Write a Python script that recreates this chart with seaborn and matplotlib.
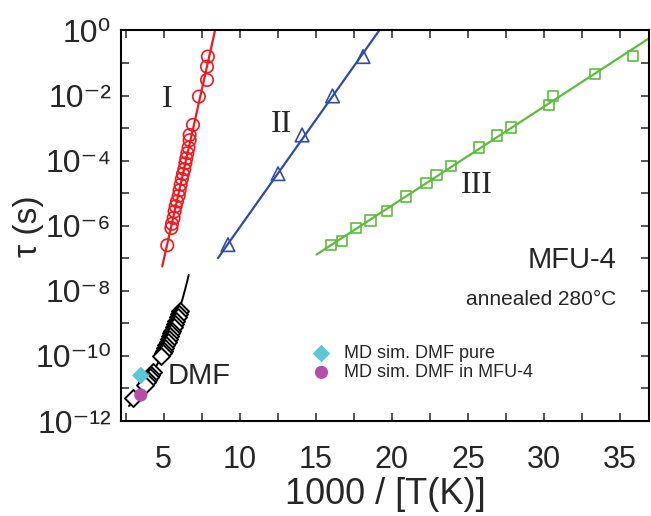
import numpy as np
import pandas as pd
import matplotlib.pyplot as plt
import seaborn as sns
from matplotlib.ticker import FixedLocator, FuncFormatter, NullFormatter

# process I (red circles): x = 1000/T, y = log10(tau / s)
x_I = [7.91, 7.85, 7.85, 7.32, 6.93, 6.71, 6.71, 6.64, 6.56, 6.49, 6.43, 6.36,
       6.27, 6.20, 6.12, 6.05, 5.99, 5.88, 5.79, 5.72, 5.66, 5.55, 5.51, 5.24]
logtau_I = [-0.80, -1.11, -1.52, -2.03, -2.90, -3.21, -3.37, -3.60, -3.77, -3.93, -4.08, -4.26,
            -4.41, -4.56, -4.74, -4.91, -5.08, -5.25, -5.40, -5.56, -5.76, -5.94, -6.07, -6.60]

# process II (blue triangles)
x_II = [18.11, 16.10, 14.10, 12.52, 9.23]
logtau_II = [-0.80, -2.01, -3.21, -4.40, -6.58]

# process III (green squares)
x_III = [35.84, 33.36, 30.61, 30.35, 27.81, 26.89, 25.72, 23.88, 22.94, 22.28,
         20.92, 19.69, 18.60, 17.63, 16.73, 15.99]
logtau_III = [-0.78, -1.34, -2.01, -2.29, -2.98, -3.23, -3.60, -4.16, -4.43, -4.69,
              -5.10, -5.55, -5.84, -6.07, -6.46, -6.60]

# DMF (black open diamonds)
x_DMF = [6.08, 6.00, 5.92, 5.82, 5.75, 5.66, 5.58, 5.50, 5.42, 5.34, 5.26, 5.18,
         5.10, 5.02, 4.94, 4.85, 4.30, 4.20, 4.10, 4.00, 3.90, 3.80, 3.00]
logtau_DMF = [-8.62, -8.70, -8.80, -8.92, -9.02, -9.12, -9.22, -9.31, -9.40, -9.49, -9.58, -9.67,
              -9.75, -9.84, -9.92, -10.01, -10.50, -10.58, -10.66, -10.74, -10.81, -10.88, -11.28]

# MD simulations
x_md_pure, logtau_md_pure = [3.50], [-10.60]
x_md_mfu, logtau_md_mfu = [3.50], [-11.20]

# Arrhenius fits: log10(tau) = a + b*x, drawn between x_start and x_end
fit_I = (-17.51, 2.09, 4.91, 8.45)
fit_II = (-12.65, 0.66, 8.57, 19.3)
fit_III = (-11.46, 0.304, 15.05, 37.0)
# VFT fit for DMF: log10(tau) = a + b / (1000/x - T0)
fit_DMF = (-12.623, 298.5, 92.0, 2.72, 6.65)

x_ticks = [5, 10, 15, 20, 25, 30, 35]
y_exponents = [0, -2, -4, -6, -8, -10, -12]

red = "#f01a1e"
blue = "#2f4ea3"
green = "#5cbd3c"
cyan = "#5cc7d6"
magenta = "#b44ea9"

sns.set_style("ticks")
plt.rcParams["font.family"] = ["Liberation Sans", "DejaVu Sans"]
plt.rcParams["axes.unicode_minus"] = False

fig = plt.figure(figsize=(6.51, 5.16), dpi=100)
ax = fig.add_axes([0.1859, 0.1841, 0.8110, 0.7568])


def arrhenius(fit):
    a, b, x0, x1 = fit
    xs = np.linspace(x0, x1, 50)
    return pd.DataFrame({"x": xs, "tau": 10 ** (a + b * xs)})


def vft(fit):
    a, b, t0, x0, x1 = fit
    xs = np.linspace(x0, x1, 100)
    return pd.DataFrame({"x": xs, "tau": 10 ** (a + b / (1000 / xs - t0))})


for fit, c in [(fit_I, red), (fit_II, blue), (fit_III, green)]:
    sns.lineplot(data=arrhenius(fit), x="x", y="tau", color=c, lw=1.6, ax=ax)
sns.lineplot(data=vft(fit_DMF), x="x", y="tau", color="black", lw=1.4, ax=ax)


def points(xv, lv):
    return pd.DataFrame({"x": xv, "tau": 10 ** np.array(lv)})


sns.scatterplot(data=points(x_I, logtau_I), x="x", y="tau", marker="o", s=80,
                color=red, facecolors="none", edgecolors=red, linewidth=1.2, ax=ax, zorder=3)
sns.scatterplot(data=points(x_II, logtau_II), x="x", y="tau", marker="^", s=95,
                color=blue, facecolors="none", edgecolors=blue, linewidth=1.2, ax=ax, zorder=3)
sns.scatterplot(data=points(x_III, logtau_III), x="x", y="tau", marker="s", s=55,
                color=green, facecolors="none", edgecolors=green, linewidth=1.2, ax=ax, zorder=3)
sns.scatterplot(data=points(x_DMF, logtau_DMF), x="x", y="tau", marker="D", s=75,
                color="black", facecolors="white", edgecolors="black", linewidth=1.4, ax=ax, zorder=3)
sns.scatterplot(data=points(x_md_pure, logtau_md_pure), x="x", y="tau", marker="D", s=80,
                color=cyan, edgecolor="none", ax=ax, zorder=4, label="MD sim. DMF pure")
sns.scatterplot(data=points(x_md_mfu, logtau_md_mfu), x="x", y="tau", marker="o", s=90,
                color=magenta, edgecolor="none", ax=ax, zorder=4, label="MD sim. DMF in MFU-4")

ax.set_yscale("log")
ax.set_xlim(2.2, 36.9)
ax.set_ylim(1e-12, 1)

sup = str.maketrans("-0123456789", "⁻⁰¹²³⁴⁵⁶⁷⁸⁹")
ax.xaxis.set_major_locator(FixedLocator(x_ticks))
ax.xaxis.set_minor_locator(FixedLocator([t + 2.5 for t in [0] + x_ticks[:-1]]))
ax.yaxis.set_major_locator(FixedLocator([10.0 ** e for e in y_exponents]))
ax.yaxis.set_minor_locator(FixedLocator([10.0 ** (e - 1) for e in y_exponents[:-1]]))
ax.yaxis.set_major_formatter(FuncFormatter(
    lambda v, p: "10" + str(round(np.log10(v))).translate(sup)))
ax.yaxis.set_minor_formatter(NullFormatter())

ax.tick_params(which="both", direction="in", length=6, width=1.1,
               top=True, right=True)
ax.tick_params(axis="y", labelsize=23, pad=7)
ax.tick_params(axis="x", labelsize=22, pad=17)
for sp in ax.spines.values():
    sp.set_linewidth(1.5)
    sp.set_color("black")

ax.set_xlabel("1000 / [T(K)]", fontsize=26, labelpad=2)
ax.set_ylabel("τ (s)", fontsize=24)
ax.yaxis.set_label_coords(-0.145, 0.5)

serif = ["Liberation Serif", "DejaVu Serif"]
ax.text(5.26, 10 ** -2.13, "I", family=serif, fontsize=23, ha="center", va="center")
ax.text(12.74, 10 ** -2.90, "II", family=serif, fontsize=23, ha="center", va="center")
ax.text(25.57, 10 ** -4.76, "III", family=serif, fontsize=23, ha="center", va="center")
ax.text(34.74, 10 ** -7.04, "MFU-4", fontsize=21, ha="right", va="center")
ax.text(34.74, 10 ** -8.27, "annealed 280°C", fontsize=15, ha="right", va="center")
ax.text(5.26, 10 ** -10.62, "DMF", fontsize=21, ha="left", va="center")

ax.legend(loc="center left", bbox_to_anchor=(0.3626, 0.148), frameon=False,
          fontsize=13, handlelength=1.0, handletextpad=0.75, labelspacing=0.1,
          borderpad=0, borderaxespad=0)

fig.savefig("out.png", dpi=100)
